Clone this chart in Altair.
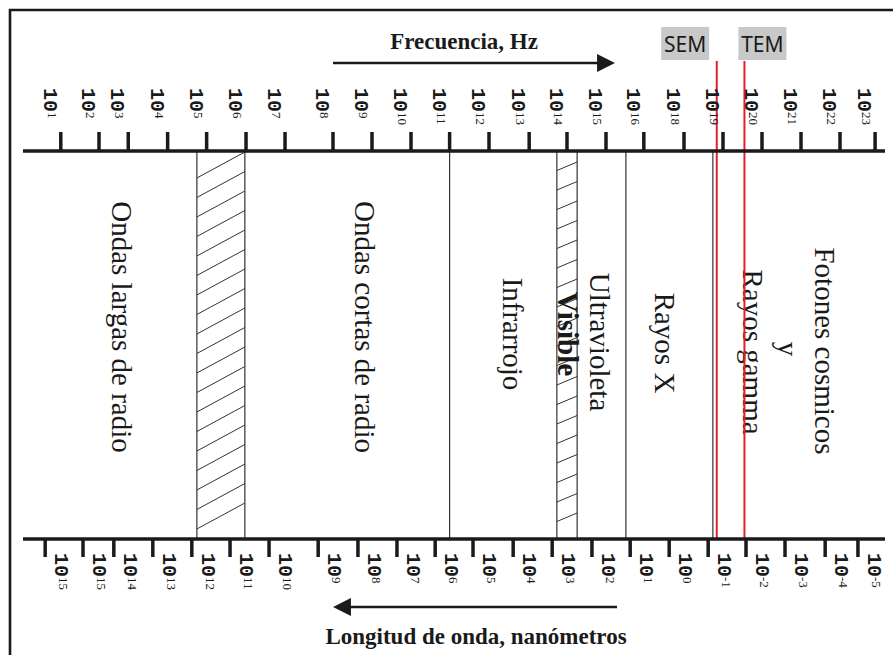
import altair as alt
import pandas as pd

# Frequency scale (Hz): exponent of each tick and its place along the spectrum
freq_exp = ["1", "2", "3", "4", "5", "6", "7", "8", "9", "10", "11", "12",
            "13", "14", "15", "16", "18", "19", "20", "21", "22", "23"]
freq_pos = [1.02, 2.0, 2.75, 3.76, 4.76, 5.77, 6.77, 8.0, 9.0, 10.0, 10.99, 12.0,
            13.03, 14.0, 15.0, 15.97, 17.0, 18.0, 19.0, 20.0, 21.0, 21.9]

# Wavelength scale (nm)
wave_exp = ["15", "15", "14", "13", "12", "11", "10", "9", "8", "7", "6", "5",
            "4", "3", "2", "1", "0", "-1", "-2", "-3", "-4", "-5"]
wave_pos = [0.62, 1.59, 2.38, 3.38, 4.38, 5.36, 6.36, 7.62, 8.64, 9.64, 10.62, 11.59,
            12.62, 13.62, 14.64, 15.62, 16.62, 17.62, 18.59, 19.59, 20.62, 21.46]

# Region boundaries and the two hatched transition bands
boundary_pos = [4.51, 5.74, 10.99, 13.74, 14.26, 15.51, 17.74]
hatch_from = [4.51, 13.74]
hatch_to = [5.74, 14.26]

# Region names
region_name = ["Ondas largas de radio", "Ondas cortas de radio", "Infrarrojo", "Visible",
               "Ultravioleta", "Rayos X", "Rayos gamma", "y", "Fotones cosmicos"]
region_pos = [2.33, 8.56, 12.36, 13.77, 14.59, 16.26, 18.51, 19.41, 20.36]
region_bold = [False, False, False, True, False, False, False, False, False]

# Microscopes marked on the spectrum
scope_name = ["SEM", "TEM"]
scope_pos = [17.84, 18.55]
scope_tag = [17.03, 19.01]

W, H = 893, 655
SLOT = 39.0
X0 = 21.0
XS = alt.Scale(domain=[-X0 / SLOT, (W - X0) / SLOT], range=[0, W], nice=False, zero=False)
YS = alt.Scale(domain=[0, H], range=[0, H], nice=False, zero=False)

INK = "#1a1a1a"
RED = "#e41f2d"

freq = pd.DataFrame({"exp": freq_exp, "pos": freq_pos})
wave = pd.DataFrame({"exp": wave_exp, "pos": wave_pos})
bounds = pd.DataFrame({"pos": boundary_pos})
regions = pd.DataFrame({
    "name": region_name, "pos": region_pos, "bold": region_bold,
    "mid": [327, 327, 334, 334, 342, 343, 352, 349, 351],
})
scopes = pd.DataFrame({"name": scope_name, "pos": scope_pos, "tag": scope_tag})
one = pd.DataFrame({"k": [0]})

X = lambda f: alt.X(f, type="quantitative", scale=XS, axis=None)
Y = lambda f: alt.Y(f, type="quantitative", scale=YS, axis=None)

# outer frame (left and top edges)
frame = alt.layer(
    alt.Chart(one).mark_rule(color=INK, strokeWidth=2.6).encode(
        x=alt.value(10), y=alt.value(9), y2=alt.value(H)),
    alt.Chart(one).mark_rule(color=INK, strokeWidth=2.6).encode(
        x=alt.value(9), x2=alt.value(W), y=alt.value(10)),
)

# the two scale lines
axis_lines = alt.layer(
    alt.Chart(one).mark_rule(color=INK, strokeWidth=3.3).encode(
        x=alt.value(23), x2=alt.value(885), y=alt.value(151)),
    alt.Chart(one).mark_rule(color=INK, strokeWidth=3.3).encode(
        x=alt.value(23), x2=alt.value(885), y=alt.value(539)),
)

rot = dict(color=INK, angle=90, align="left", baseline="alphabetic")
base_font = dict(font="Liberation Mono", fontSize=20, fontWeight="bold", text="10", **rot)
sup_font = dict(font="Liberation Serif", fontSize=13, **rot)

freq_ticks = alt.Chart(freq).mark_rule(color=INK, strokeWidth=3.5).encode(
    x=X("pos"), y=alt.value(132), y2=alt.value(151))
freq_base = alt.Chart(freq).mark_text(dy=17, **base_font).encode(
    x=X("pos"), y=alt.value(88))
freq_sup = alt.Chart(freq).mark_text(dy=13, **sup_font).encode(
    x=X("pos"), y=alt.value(112), text="exp:N")

wave_ticks = alt.Chart(wave).mark_rule(color=INK, strokeWidth=3.5).encode(
    x=X("pos"), y=alt.value(539), y2=alt.value(557))
wave_base = alt.Chart(wave).mark_text(dy=-10, **base_font).encode(
    x=X("pos"), y=alt.value(553))
wave_sup = alt.Chart(wave).mark_text(dy=-14, **sup_font).encode(
    x=X("pos"), y=alt.value(577), text="exp:N")

# region boundaries
bound_lines = alt.Chart(bounds).mark_rule(color="#333333", strokeWidth=1.2).encode(
    x=X("pos"), y=alt.value(151), y2=alt.value(539))


def hatch(i, first, step, rise, count):
    return alt.Chart(alt.sequence(0, count, as_="k")).transform_calculate(
        xl=f"{hatch_from[i]}", xr=f"{hatch_to[i]}",
        yr=f"{first} + {step} * datum.k", yl=f"{first} + {step} * datum.k + {rise}",
    ).mark_rule(color="#333333", strokeWidth=1.0).encode(
        x=X("xl"), x2="xr:Q", y=Y("yl"), y2="yr:Q")


hatches = alt.layer(hatch(0, 152, 19.5, 26, 19), hatch(1, 162, 19.5, 8.5, 19))

# region names
name_style = dict(font="Liberation Serif", fontSize=29, color=INK, angle=90,
                  align="center", baseline="alphabetic")
names = alt.layer(
    alt.Chart(regions).transform_filter("!datum.bold").mark_text(**name_style).encode(
        x=X("pos"), y=Y("mid"), text="name:N"),
    alt.Chart(regions).transform_filter("datum.bold").mark_text(fontWeight="bold", **name_style).encode(
        x=X("pos"), y=Y("mid"), text="name:N"),
)

# microscope markers
scope_lines = alt.Chart(scopes).mark_rule(color=RED, strokeWidth=2).encode(
    x=X("pos"), y=alt.value(61), y2=alt.value(539))
scope_boxes = alt.Chart(scopes).transform_calculate(
    l=f"datum.tag - {24 / SLOT}", r=f"datum.tag + {24 / SLOT}"
).mark_rect(color="#c8c8c8").encode(
    x=X("l"), x2="r:Q", y=alt.value(27), y2=alt.value(60))
scope_text = alt.Chart(scopes).mark_text(font="Noto Sans", fontSize=21, color=INK,
                                         align="center", baseline="alphabetic").encode(
    x=X("tag"), y=alt.value(52), text="name:N")

# direction arrows and their titles
tri_r = "M-1,-1L1,0L-1,1Z"
tri_l = "M1,-1L-1,0L1,1Z"
arrows = alt.layer(
    alt.Chart(one).mark_rule(color=INK, strokeWidth=2.6).encode(
        x=alt.value(333), x2=alt.value(600), y=alt.value(63)),
    alt.Chart(one).mark_point(shape=tri_r, filled=True, size=320, color=INK, opacity=1).encode(
        x=alt.value(606), y=alt.value(63)),
    alt.Chart(one).mark_rule(color=INK, strokeWidth=2.6).encode(
        x=alt.value(348), x2=alt.value(617), y=alt.value(607)),
    alt.Chart(one).mark_point(shape=tri_l, filled=True, size=320, color=INK, opacity=1).encode(
        x=alt.value(342), y=alt.value(607)),
)
title_style = dict(font="Liberation Serif", fontSize=23, fontWeight="bold", color=INK,
                   align="center", baseline="alphabetic")
titles = alt.layer(
    alt.Chart(one).mark_text(text="Frecuencia, Hz", **title_style).encode(
        x=alt.value(464), y=alt.value(49)),
    alt.Chart(one).mark_text(text="Longitud de onda, nanómetros", **title_style).encode(
        x=alt.value(476), y=alt.value(644)),
)

chart = alt.layer(
    hatches, bound_lines, names, scope_boxes, scope_text, scope_lines,
    frame, axis_lines, freq_ticks, freq_base, freq_sup,
    wave_ticks, wave_base, wave_sup, arrows, titles,
).properties(
    width=W, height=H, padding=0, autosize=alt.AutoSizeParams(type="none"),
    background="white",
).configure_view(stroke=None)

chart.save("out.html", embed_options={"renderer": "svg", "actions": False})
